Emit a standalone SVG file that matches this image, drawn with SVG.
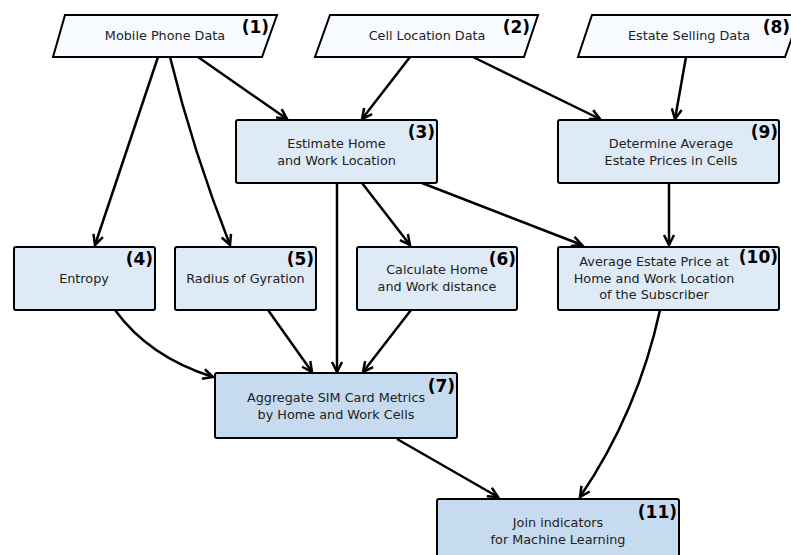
<svg xmlns="http://www.w3.org/2000/svg" width="791" height="555" viewBox="0 0 791 555">
<style>
.lbl{font-family:"DejaVu Sans",sans-serif;font-size:12.8px;fill:#222;text-anchor:middle}
.num{font-family:"DejaVu Sans",sans-serif;font-size:17px;font-weight:bold;fill:#000;text-anchor:end}
.data{fill:#f7fbff;stroke:#000;stroke-width:2;stroke-linejoin:miter}
.proc{fill:#deebf7;stroke:#000;stroke-width:2}
.agg{fill:#c6dbef;stroke:#000;stroke-width:2}
.edge{fill:none;stroke:#000;stroke-width:2.5;marker-end:url(#arr)}
</style>
<defs>
<marker id="arr" viewBox="-12 -7 14 14" refX="0" refY="0" markerWidth="14" markerHeight="14" orient="auto" markerUnits="userSpaceOnUse" overflow="visible">
<path d="M-10,-5 L0,0 L-10,5" fill="none" stroke="#000" stroke-width="2.5"/>
</marker>
</defs>
<rect width="791" height="555" fill="#fff"/>
<g id="connectors">
<path class="edge" d="M198,57 L287,119"/>
<path class="edge" d="M158,57 L95,245"/>
<path class="edge" d="M170,57 Q193,151 230,245"/>
<path class="edge" d="M410,57 L362,119"/>
<path class="edge" d="M473,57 L600,119"/>
<path class="edge" d="M686,57 L675,119"/>
<path class="edge" d="M362,183 L410,245"/>
<path class="edge" d="M422,183 L582,245"/>
<path class="edge" d="M337,183 L337,372"/>
<path class="edge" d="M669,183 L669,245"/>
<path class="edge" d="M115,310 Q149,357 213,377"/>
<path class="edge" d="M268,310 L312,372"/>
<path class="edge" d="M411,310 L363,372"/>
<path class="edge" d="M397,439 L498,497"/>
<path class="edge" d="M660,310 Q638,411.5 580,497"/>
</g>
<g id="n1">
<polygon class="data" points="65,15 277,15 262,57 53,57"/>
<text class="lbl" x="165" y="40">Mobile Phone Data</text>
<text class="num" x="269" y="33">(1)</text>
</g>
<g id="n2">
<polygon class="data" points="330,15 538,15 524,57 315,57"/>
<text class="lbl" x="427" y="40">Cell Location Data</text>
<text class="num" x="530" y="33">(2)</text>
</g>
<g id="n8">
<polygon class="data" points="592,15 800,15 785,57 578,57"/>
<text class="lbl" x="689" y="40">Estate Selling Data</text>
<text class="num" x="790" y="33">(8)</text>
</g>
<g id="n3">
<rect class="proc" x="236" y="120" width="201" height="63" rx="2"/>
<text class="lbl" x="336.5" y="148">Estimate Home</text>
<text class="lbl" x="336.5" y="165">and Work Location</text>
<text class="num" x="435" y="138">(3)</text>
</g>
<g id="n9">
<rect class="proc" x="558" y="120" width="221" height="63" rx="2"/>
<text class="lbl" x="671" y="148">Determine Average</text>
<text class="lbl" x="671" y="165">Estate Prices in Cells</text>
<text class="num" x="778" y="138">(9)</text>
</g>
<g id="n4">
<rect class="proc" x="14" y="247" width="141" height="63" rx="2"/>
<text class="lbl" x="84" y="283">Entropy</text>
<text class="num" x="153" y="265">(4)</text>
</g>
<g id="n5">
<rect class="proc" x="175" y="247" width="141" height="63" rx="2"/>
<text class="lbl" x="245.5" y="283">Radius of Gyration</text>
<text class="num" x="314" y="265">(5)</text>
</g>
<g id="n6">
<rect class="proc" x="357" y="247" width="160" height="63" rx="2"/>
<text class="lbl" x="437" y="274">Calculate Home</text>
<text class="lbl" x="437" y="291">and Work distance</text>
<text class="num" x="516" y="265">(6)</text>
</g>
<g id="n10">
<rect class="proc" x="558" y="247" width="221" height="63" rx="2"/>
<text class="lbl" x="654" y="266">Average Estate Price at</text>
<text class="lbl" x="654" y="282.5">Home and Work Location</text>
<text class="lbl" x="654" y="299">of the Subscriber</text>
<text class="num" x="778" y="263">(10)</text>
</g>
<g id="n7">
<rect class="agg" x="215" y="373" width="242" height="65" rx="2"/>
<text class="lbl" x="336" y="402">Aggregate SIM Card Metrics</text>
<text class="lbl" x="336" y="418.5">by Home and Work Cells</text>
<text class="num" x="455" y="392">(7)</text>
</g>
<g id="n11">
<rect class="agg" x="437" y="499" width="242" height="72" rx="2"/>
<text class="lbl" x="558" y="527">Join indicators</text>
<text class="lbl" x="558" y="543.5">for Machine Learning</text>
<text class="num" x="677" y="518">(11)</text>
</g>
</svg>
